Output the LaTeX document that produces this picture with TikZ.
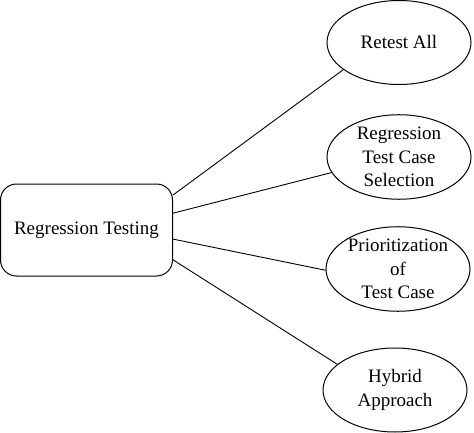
\documentclass[tikz,border=0pt]{standalone}
\usepackage{fontspec}
\setmainfont{Liberation Serif}
\usetikzlibrary{shapes.geometric}
\tikzset{
	rootbox/.style={rectangle, rounded corners=16pt, draw=black, line width=1pt, minimum width=172pt, minimum height=92pt, align=center, inner sep=0pt},
	kind/.style   ={ellipse, draw=black, line width=1pt, minimum width=144pt, minimum height=84pt, align=center, inner sep=0pt},
	branch/.style ={line width=0.9pt},
}
\begin{document}
\begin{tikzpicture}[x=1pt, y=-1pt, every node/.style={font=\fontsize{19}{23.5}\selectfont}]
	\useasboundingbox (0,0) rectangle (474,433);
	% root of the tree
	\node[rootbox] (rt) at (86.5,230) {Regression Testing};
	% the four techniques
	\node[kind] (all) at (399,42.5) {Retest All};
	\node[kind, minimum height=81pt] (sel) at (399,157) {Regression\\Test Case\\Selection};
	\node[kind] (pri) at (398,269) {Prioritization\\of\\Test Case};
	\node[kind] (hyb) at (395,390) {Hybrid\\Approach};
	\draw[branch] (rt.22) -- (all.206);
	\draw[branch] (rt.11) -- (sel.193);
	\draw[branch] (rt.-6) -- (pri.181);
	\draw[branch] (rt.-19) -- (hyb.156);
\end{tikzpicture}
\end{document}
